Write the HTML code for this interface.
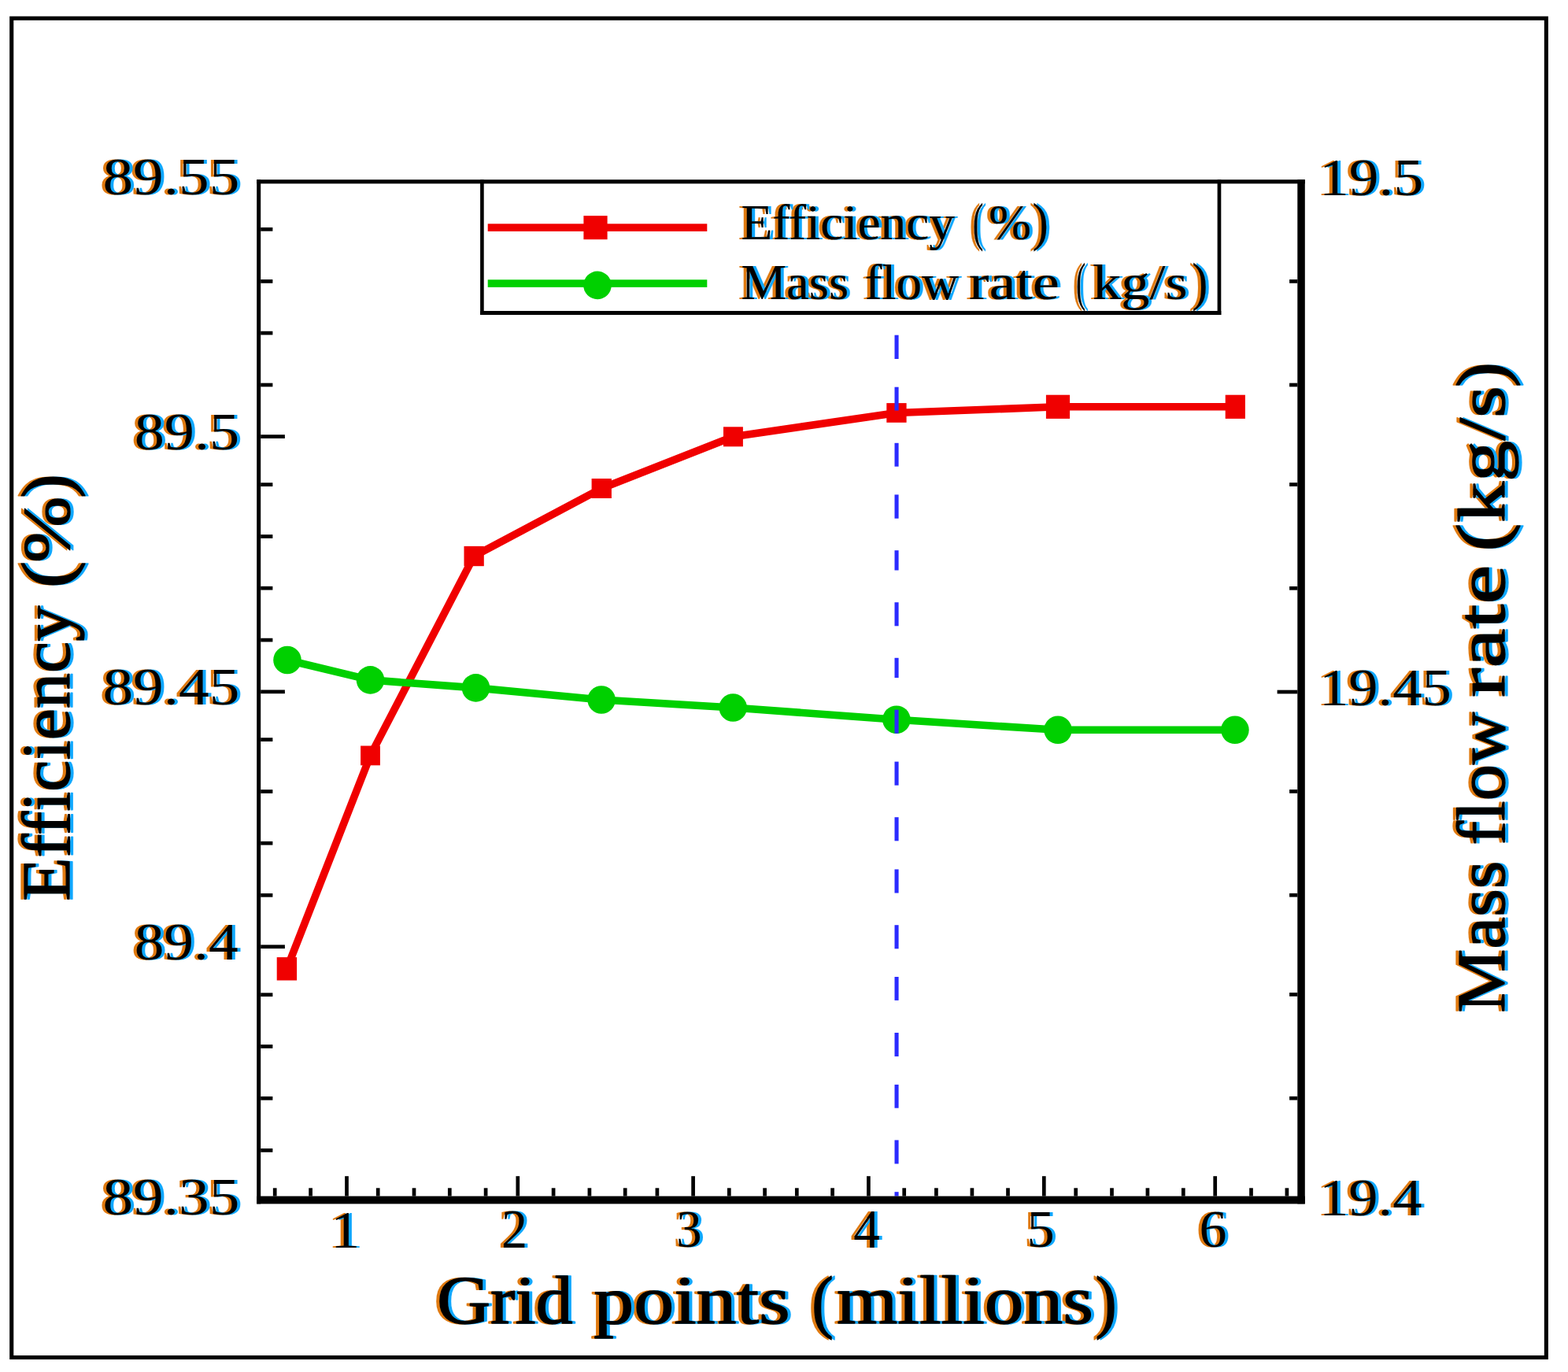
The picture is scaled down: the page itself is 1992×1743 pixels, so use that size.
<!DOCTYPE html>
<html><head><meta charset="utf-8"><title>Grid independence: efficiency and mass flow rate vs grid points</title>
<style>
html,body{margin:0;padding:0;background:#fff;width:1992px;height:1743px;overflow:hidden;}
svg{display:block;}
text{font-family:'Liberation Serif', serif;font-weight:normal;fill:#000;}
text.tt{stroke:#000;stroke-width:1.5px;stroke-linejoin:round;}
text.lg{stroke:#000;stroke-width:0.25px;stroke-linejoin:round;}
</style></head>
<body>
<svg width="1992" height="1743" viewBox="0 0 1992 1743">
<rect x="0" y="0" width="1992" height="1743" fill="#fff"/>
<rect x="14.7" y="23.25" width="1949.65" height="1701.25" fill="none" stroke="#000" stroke-width="5.1"/>
<rect x="331.2" y="552.25" width="30.7" height="4.7" fill="#000"/>
<rect x="331.2" y="876.45" width="30.7" height="4.7" fill="#000"/>
<rect x="331.2" y="1200.35" width="30.7" height="4.7" fill="#000"/>
<rect x="331.2" y="288.95" width="15.2" height="4.7" fill="#000"/>
<rect x="331.2" y="355.05" width="15.2" height="4.7" fill="#000"/>
<rect x="331.2" y="420.75" width="15.2" height="4.7" fill="#000"/>
<rect x="331.2" y="486.65" width="15.2" height="4.7" fill="#000"/>
<rect x="331.2" y="613.25" width="15.2" height="4.7" fill="#000"/>
<rect x="331.2" y="679.15" width="15.2" height="4.7" fill="#000"/>
<rect x="331.2" y="744.85" width="15.2" height="4.7" fill="#000"/>
<rect x="331.2" y="810.75" width="15.2" height="4.7" fill="#000"/>
<rect x="331.2" y="937.25" width="15.2" height="4.7" fill="#000"/>
<rect x="331.2" y="1003.15" width="15.2" height="4.7" fill="#000"/>
<rect x="331.2" y="1068.85" width="15.2" height="4.7" fill="#000"/>
<rect x="331.2" y="1134.95" width="15.2" height="4.7" fill="#000"/>
<rect x="331.2" y="1261.35" width="15.2" height="4.7" fill="#000"/>
<rect x="331.2" y="1327.05" width="15.2" height="4.7" fill="#000"/>
<rect x="331.2" y="1392.95" width="15.2" height="4.7" fill="#000"/>
<rect x="331.2" y="1459.05" width="15.2" height="4.7" fill="#000"/>
<rect x="1622.6" y="876.65" width="25.7" height="4.7" fill="#000"/>
<rect x="1638.1" y="355.05" width="10.2" height="4.7" fill="#000"/>
<rect x="1638.1" y="486.65" width="10.2" height="4.7" fill="#000"/>
<rect x="1638.1" y="613.15" width="10.2" height="4.7" fill="#000"/>
<rect x="1638.1" y="744.95" width="10.2" height="4.7" fill="#000"/>
<rect x="1638.1" y="1003.05" width="10.2" height="4.7" fill="#000"/>
<rect x="1638.1" y="1134.85" width="10.2" height="4.7" fill="#000"/>
<rect x="1638.1" y="1261.05" width="10.2" height="4.7" fill="#000"/>
<rect x="1638.1" y="1392.85" width="10.2" height="4.7" fill="#000"/>
<rect x="438.15" y="1494.2" width="4.7" height="25.4" fill="#000"/>
<rect x="655.45" y="1494.2" width="4.7" height="25.4" fill="#000"/>
<rect x="878.25" y="1494.2" width="4.7" height="25.4" fill="#000"/>
<rect x="1101.05" y="1494.2" width="4.7" height="25.4" fill="#000"/>
<rect x="1323.95" y="1494.2" width="4.7" height="25.4" fill="#000"/>
<rect x="1541.35" y="1494.2" width="4.7" height="25.4" fill="#000"/>
<rect x="346.85" y="1509.3" width="4.7" height="10.3" fill="#000"/>
<rect x="392.25" y="1509.3" width="4.7" height="10.3" fill="#000"/>
<rect x="477.85" y="1509.3" width="4.7" height="10.3" fill="#000"/>
<rect x="523.65" y="1509.3" width="4.7" height="10.3" fill="#000"/>
<rect x="568.95" y="1509.3" width="4.7" height="10.3" fill="#000"/>
<rect x="614.75" y="1509.3" width="4.7" height="10.3" fill="#000"/>
<rect x="700.75" y="1509.3" width="4.7" height="10.3" fill="#000"/>
<rect x="746.55" y="1509.3" width="4.7" height="10.3" fill="#000"/>
<rect x="791.85" y="1509.3" width="4.7" height="10.3" fill="#000"/>
<rect x="832.55" y="1509.3" width="4.7" height="10.3" fill="#000"/>
<rect x="923.95" y="1509.3" width="4.7" height="10.3" fill="#000"/>
<rect x="969.25" y="1509.3" width="4.7" height="10.3" fill="#000"/>
<rect x="1009.95" y="1509.3" width="4.7" height="10.3" fill="#000"/>
<rect x="1055.25" y="1509.3" width="4.7" height="10.3" fill="#000"/>
<rect x="1146.35" y="1509.3" width="4.7" height="10.3" fill="#000"/>
<rect x="1187.05" y="1509.3" width="4.7" height="10.3" fill="#000"/>
<rect x="1232.55" y="1509.3" width="4.7" height="10.3" fill="#000"/>
<rect x="1278.15" y="1509.3" width="4.7" height="10.3" fill="#000"/>
<rect x="1364.35" y="1509.3" width="4.7" height="10.3" fill="#000"/>
<rect x="1410.15" y="1509.3" width="4.7" height="10.3" fill="#000"/>
<rect x="1455.55" y="1509.3" width="4.7" height="10.3" fill="#000"/>
<rect x="1500.95" y="1509.3" width="4.7" height="10.3" fill="#000"/>
<rect x="1587.15" y="1509.3" width="4.7" height="10.3" fill="#000"/>
<rect x="1632.55" y="1509.3" width="4.7" height="10.3" fill="#000"/>
<polyline points="364.4,1230.8 470.5,959.9 602.2,706.5 764.2,620.5 931.4,554.8 1139,524.5 1344,516.8 1569.3,516.8" fill="none" stroke="#f00000" stroke-width="9.6" stroke-linejoin="round"/>
<rect x="351.7" y="1216.1" width="25.4" height="29.4" fill="#f00000"/>
<rect x="458.1" y="947.5" width="24.8" height="24.8" fill="#f00000"/>
<rect x="589.5" y="693.9" width="25.3" height="25.3" fill="#f00000"/>
<rect x="751.6" y="608" width="25.3" height="25" fill="#f00000"/>
<rect x="919" y="542.3" width="24.9" height="25" fill="#f00000"/>
<rect x="1126.3" y="512.1" width="25.3" height="24.7" fill="#f00000"/>
<rect x="1328.9" y="501.7" width="30.2" height="30.2" fill="#f00000"/>
<rect x="1556.7" y="501.7" width="25.2" height="30.2" fill="#f00000"/>
<polyline points="365,838.5 470.5,863.9 604.5,873.9 764.1,889 931.2,899 1138.9,914.2 1344,927.3 1568.9,927.3" fill="none" stroke="#00d000" stroke-width="9.6" stroke-linejoin="round"/>
<circle cx="365" cy="838.5" r="17.8" fill="#00d000"/>
<circle cx="470.5" cy="863.9" r="17.8" fill="#00d000"/>
<circle cx="604.5" cy="873.9" r="17.8" fill="#00d000"/>
<circle cx="764.1" cy="889" r="17.8" fill="#00d000"/>
<circle cx="931.2" cy="899" r="17.8" fill="#00d000"/>
<circle cx="1138.9" cy="914.2" r="17.8" fill="#00d000"/>
<circle cx="1344" cy="927.3" r="17.8" fill="#00d000"/>
<circle cx="1568.9" cy="927.3" r="17.8" fill="#00d000"/>
<rect x="1136.5" y="425.7" width="5.1" height="30.3" fill="#2b2bff"/>
<rect x="1136.5" y="491.7" width="5.1" height="29.8" fill="#2b2bff"/>
<rect x="1136.5" y="562.8" width="5.1" height="29.9" fill="#2b2bff"/>
<rect x="1136.5" y="628.4" width="5.1" height="30.3" fill="#2b2bff"/>
<rect x="1136.5" y="699.2" width="5.1" height="25.3" fill="#2b2bff"/>
<rect x="1136.5" y="765.2" width="5.1" height="30.1" fill="#2b2bff"/>
<rect x="1136.5" y="835.8" width="5.1" height="25.3" fill="#2b2bff"/>
<rect x="1136.5" y="901.6" width="5.1" height="30.1" fill="#2b2bff"/>
<rect x="1136.5" y="967.6" width="5.1" height="30.1" fill="#2b2bff"/>
<rect x="1136.5" y="1038.2" width="5.1" height="30.1" fill="#2b2bff"/>
<rect x="1136.5" y="1104.4" width="5.1" height="30.1" fill="#2b2bff"/>
<rect x="1136.5" y="1175.2" width="5.1" height="30.1" fill="#2b2bff"/>
<rect x="1136.5" y="1241" width="5.1" height="29.9" fill="#2b2bff"/>
<rect x="1136.5" y="1312" width="5.1" height="30.1" fill="#2b2bff"/>
<rect x="1136.5" y="1377.9" width="5.1" height="29.8" fill="#2b2bff"/>
<rect x="1136.5" y="1448.4" width="5.1" height="30.1" fill="#2b2bff"/>
<rect x="1136.5" y="1514.2" width="5.1" height="5.4" fill="#2b2bff"/>
<rect x="610.1" y="228.2" width="4.6" height="171.8" fill="#000"/>
<rect x="1546.6" y="228.2" width="4.7" height="171.8" fill="#000"/>
<rect x="610.1" y="395" width="941.2" height="5" fill="#000"/>
<rect x="619.7" y="284.3" width="278.6" height="9.6" fill="#f00000"/>
<rect x="741.4" y="274.1" width="30.2" height="30.1" fill="#f00000"/>
<rect x="619.7" y="355.3" width="278.6" height="9.6" fill="#00d000"/>
<circle cx="759" cy="362.4" r="17.8" fill="#00d000"/>
<rect x="326.2" y="228.2" width="1331.6" height="5.1" fill="#000"/>
<rect x="326.2" y="228.2" width="5" height="1301.2" fill="#000"/>
<rect x="1648.3" y="228.2" width="9.5" height="1301.2" fill="#000"/>
<rect x="326.2" y="1519.6" width="1331.6" height="9.8" fill="#000"/>
<defs><filter id="ct" x="0" y="0" width="1992" height="1743" filterUnits="userSpaceOnUse" color-interpolation-filters="sRGB">
<feOffset in="SourceAlpha" dx="-4.0" dy="0" result="l"/><feFlood flood-color="#e07a10"/><feComposite in2="l" operator="in" result="lo"/>
<feOffset in="SourceAlpha" dx="4.0" dy="0" result="r"/><feFlood flood-color="#10a8ff"/><feComposite in2="r" operator="in" result="ro"/>
<feMerge><feMergeNode in="lo"/><feMergeNode in="ro"/><feMergeNode in="SourceGraphic"/></feMerge></filter></defs>
<g filter="url(#ct)">
<text transform="matrix(0.773 0 0 0.675 130.409 246.851)" font-size="100">89.55</text>
<text transform="matrix(0.763 0 0 0.675 170.646 570.851)" font-size="100">89.5</text>
<text transform="matrix(0.773 0 0 0.682 130.409 895.336)" font-size="100">89.45</text>
<text transform="matrix(0.754 0 0 0.682 170.682 1219.336)" font-size="100">89.4</text>
<text transform="matrix(0.773 0 0 0.682 130.409 1543.436)" font-size="100">89.35</text>
<text transform="matrix(0.756 0 0 0.675 1675.894 247.525)" font-size="100">19.5</text>
<text transform="matrix(0.746 0 0 0.682 1675.888 896.018)" font-size="100">19.45</text>
<text transform="matrix(0.747 0 0 0.682 1675.877 1544.118)" font-size="100">19.4</text>
<text transform="matrix(0.74 0 0 0.682 420.24 1585)" font-size="100">1</text>
<text transform="matrix(0.66 0 0 0.692 637.06 1585)" font-size="100">2</text>
<text transform="matrix(0.646 0 0 0.682 859.268 1584.318)" font-size="100">3</text>
<text transform="matrix(0.67 0 0 0.692 1084.361 1585)" font-size="100">4</text>
<text transform="matrix(0.705 0 0 0.682 1304.57 1584.318)" font-size="100">5</text>
<text transform="matrix(0.7 0 0 0.672 1523.5 1583.657)" font-size="100">6</text>
<text class="lg" transform="matrix(0.655 0 0 0.632 941.535 304.2)" font-size="100">Efficiency </text><text class="lg" transform="matrix(0.408 0 0 0.669 1235.769 304.953)" font-size="100">(</text><text class="lg" transform="matrix(0.649 0 0 0.632 1256.052 304.2)" font-size="100">%</text><text class="lg" transform="matrix(0.612 0 0 0.669 1311.465 304.953)" font-size="100">)</text>
<text class="lg" transform="matrix(0.647 0 0 0.632 941.56 379.7)" font-size="100">Mass </text><text class="lg" transform="matrix(0.652 0 0 0.632 1098.645 379.7)" font-size="100">flow </text><text class="lg" transform="matrix(0.767 0 0 0.632 1230.965 379.7)" font-size="100">rate </text><text class="lg" transform="matrix(0.365 0 0 0.666 1367.038 380.823)" font-size="100">(</text><text class="lg" transform="matrix(0.724 0 0 0.632 1388.053 379.7)" font-size="100">kg/s</text><text class="lg" transform="matrix(0.604 0 0 0.666 1514.188 380.823)" font-size="100">)</text>
<text class="tt" transform="matrix(0.943 0 0 0.857 554.929 1681.3)" font-size="100">Grid </text><text class="tt" transform="matrix(1.021 0 0 0.857 754.157 1681.3)" font-size="100">points </text><text class="tt" transform="matrix(0.827 0 0 0.899 1031.192 1682.923)" font-size="100">(</text><text class="tt" transform="matrix(0.994 0 0 0.857 1063.012 1681.3)" font-size="100">millions</text><text class="tt" transform="matrix(0.815 0 0 0.899 1391.554 1682.923)" font-size="100">)</text>
<text class="tt" transform="matrix(0 -0.905 0.857 0 88.2 1144.714)" font-size="100">Efficiency </text><text class="tt" transform="matrix(0 -1.038 0.898 0 89.447 747.154)" font-size="100">(</text><text class="tt" transform="matrix(0 -1.013 0.857 0 88.2 715.039)" font-size="100">%</text><text class="tt" transform="matrix(0 -0.923 0.898 0 89.447 632.769)" font-size="100">)</text>
<text class="tt" transform="matrix(0 -0.915 0.857 0 1911.3 1286.744)" font-size="100">Mass </text><text class="tt" transform="matrix(0 -0.924 0.857 0 1911.3 1073.772)" font-size="100">flow </text><text class="tt" transform="matrix(0 -1.123 0.857 0 1911.3 885.946)" font-size="100">rate </text><text class="tt" transform="matrix(0 -1.088 0.894 0 1912.417 700.654)" font-size="100">(</text><text class="tt" transform="matrix(0 -1.043 0.857 0 1911.3 664.087)" font-size="100">kg/s</text><text class="tt" transform="matrix(0 -0.962 0.894 0 1912.417 491.885)" font-size="100">)</text>
</g>
</svg>
</body></html>
